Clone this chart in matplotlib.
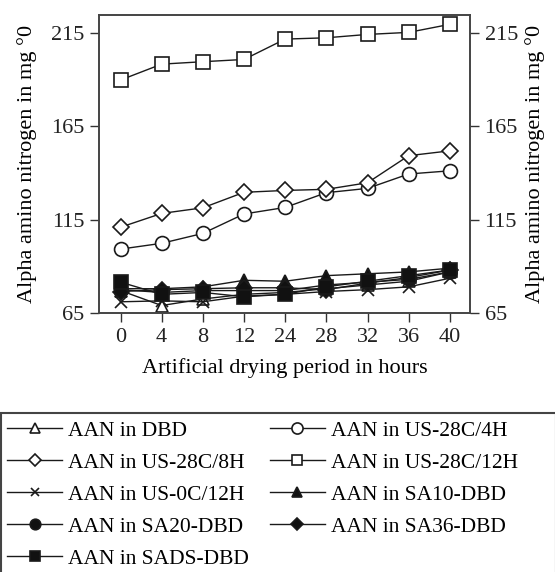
import matplotlib
matplotlib.use("Agg")
import matplotlib.pyplot as plt
from matplotlib.patches import Rectangle

plt.rcParams['font.family'] = ['Liberation Serif', 'DejaVu Serif']

hours = ['0', '4', '8', '12', '24', '28', '32', '36', '40']
y_ticks = [65, 115, 165, 215]

aan_dbd = [77, 69, 72.5, 75, 76, 78, 80, 82, 87]
aan_us28_4h = [99.2, 102.3, 107.6, 118, 121.5, 129.4, 131.7, 139.4, 141.1]
aan_us28_8h = [110.9, 118.3, 121.3, 129.6, 130.6, 131.2, 134.7, 149.2, 151.8]
aan_us28_12h = [189.7, 198.2, 199.5, 200.7, 211.6, 212.3, 214.1, 215.2, 219.5]
aan_us0_12h = [71, 71.5, 71, 74, 75, 76.5, 77.5, 79, 83.6]
aan_sa10 = [78, 78, 79, 82.5, 82, 85, 86, 87, 89]
aan_sa20 = [77.5, 76, 77, 77, 77, 80, 81.5, 83, 87]
aan_sa36 = [76.5, 77.5, 78, 78.5, 78.5, 77.5, 81, 84, 88]
aan_sads = [81.5, 75, 76, 73.7, 75, 79, 82, 85, 88]

series = [
    ('AAN in DBD', aan_dbd, '^', 'white', 9),
    ('AAN in US-28C/4H', aan_us28_4h, 'o', 'white', 10),
    ('AAN in US-28C/8H', aan_us28_8h, 'D', 'white', 8),
    ('AAN in US-28C/12H', aan_us28_12h, 's', 'white', 9.5),
    ('AAN in US-0C/12H', aan_us0_12h, 'x', 'none', 8),
    ('AAN in SA10-DBD', aan_sa10, '^', '#111111', 9),
    ('AAN in SA20-DBD', aan_sa20, 'o', '#111111', 9.5),
    ('AAN in SA36-DBD', aan_sa36, 'D', '#111111', 8),
    ('AAN in SADS-DBD', aan_sads, 's', '#111111', 9.5),
]

W, H = 555, 572
fig = plt.figure(figsize=(W / 100, H / 100), dpi=100)
ax = fig.add_axes([98.7 / W, 1 - 313 / H, (470 - 98.7) / W, (313 - 15) / H])

x = list(range(len(hours)))
line_color = '#1a1a1a'
handles = []
for label, vals, mk, fc, ms in series:
    h, = ax.plot(x, vals, color=line_color, lw=1.0, marker=mk, markersize=ms,
                 markerfacecolor=fc, markeredgecolor=line_color,
                 markeredgewidth=1.2, label=label)
    handles.append(h)

ax.set_xlim(-0.53, 8.49)
ax.set_ylim(65, 224.5)
ax.set_xticks(x)
ax.set_xticklabels(hours)
ax.set_yticks(y_ticks)
ax.set_xlabel('Artificial drying period in hours', fontsize=16, labelpad=8)
ax.set_ylabel('Alpha amino nitrogen in mg °0', fontsize=16, labelpad=10)
ax.tick_params(axis='both', direction='out', length=6.5, width=1, colors='#333333',
               labelsize=16, labelcolor='#222222', pad=4)

ax2 = ax.twinx()
ax2.set_ylim(ax.get_ylim())
ax2.set_yticks(y_ticks)
ax2.set_ylabel('Alpha amino nitrogen in mg °0', fontsize=16, rotation=90, labelpad=5)
ax2.tick_params(axis='y', direction='out', length=6.5, width=1, colors='#333333',
                labelsize=16, labelcolor='#222222', pad=4)

for a in (ax, ax2):
    for sp in a.spines.values():
        sp.set_color('#444444')
        sp.set_linewidth(1.2)

# legend frame spanning the lower part of the figure
fig.patches.append(Rectangle((1 / W, -0.01), 1.0, 1 - 413 / H + 0.01,
                             transform=fig.transFigure, fill=False,
                             edgecolor='#444444', linewidth=1.5))
# row-wise ordering in a two-column legend
order = [0, 2, 4, 6, 8, 1, 3, 5, 7]
leg = fig.legend(handles=[handles[i] for i in order], loc='upper left', ncol=2,
                 bbox_to_anchor=(1 / W, 1 - 414 / H), frameon=False,
                 fontsize=15.5, handlelength=2.55, handletextpad=0.28,
                 columnspacing=0.95, labelspacing=0.56, borderaxespad=0,
                 borderpad=0.3)
for lh in leg.legend_handles:
    lh.set_markersize(lh.get_markersize() * 0.8)

fig.savefig('out.png', dpi=100)
